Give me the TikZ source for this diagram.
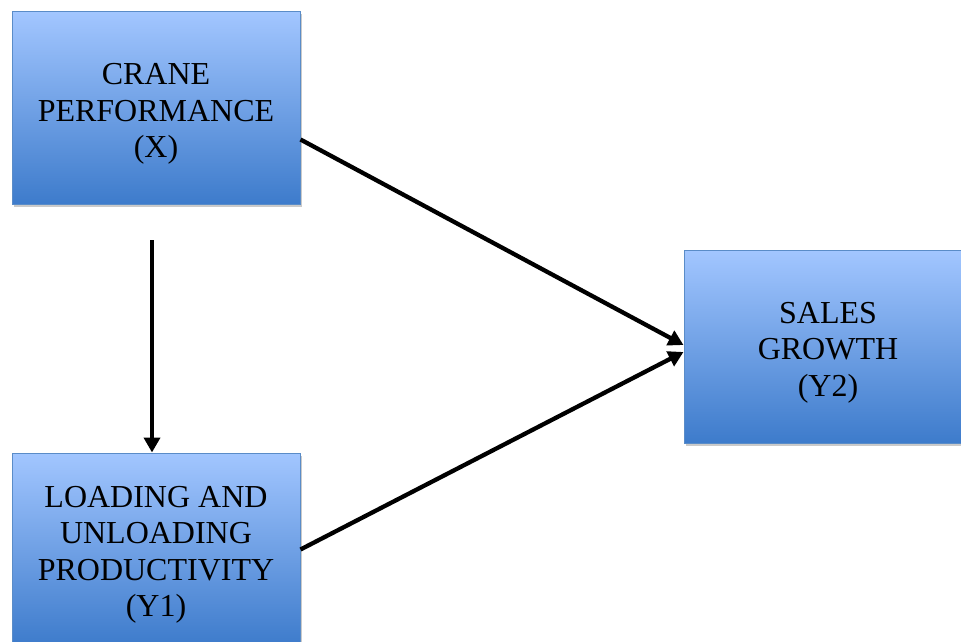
\documentclass[tikz,border=0pt]{standalone}
\usepackage{fontspec}
\setmainfont{Liberation Serif}
\usetikzlibrary{arrows.meta,shadows}
\definecolor{boxtop}{HTML}{A2C6FF}
\definecolor{boxbot}{HTML}{3D7BCB}
\definecolor{boxline}{HTML}{5A8CC8}
\newcommand{\lowstrut}{\rule{0pt}{32pt}}
\begin{document}
\begin{tikzpicture}[x=1pt,y=1pt,
  varbox/.style={draw=boxline, line width=1pt, top color=boxtop, bottom color=boxbot,
    minimum width=288pt, minimum height=193pt, inner sep=0pt, align=center,
    font=\fontsize{32}{36.5}\selectfont,
    drop shadow={shadow xshift=1.5pt, shadow yshift=-2.5pt, opacity=0.35, fill=black!60}},
  link/.style={line width=4.3pt, -{Triangle[length=15pt,width=16pt]}}]
\useasboundingbox (0,0) rectangle (961,641);
\begin{scope}
\clip (0,0) rectangle (961,641);
\node[varbox] (X) at (156,532.5) {\lowstrut CRANE\\PERFORMANCE\\(X)};
\node[varbox] (Y1) at (156,91.5) {\lowstrut LOADING AND\\UNLOADING\\PRODUCTIVITY\\(Y1)};
\node[varbox] (Y2) at (828,294) {\lowstrut SALES\\GROWTH\\(Y2)};
\coordinate (xs) at ([xshift=-4pt,yshift=-35pt]X.south);
\coordinate (y1n) at ([xshift=-4pt]Y1.north);
\draw[link] (xs) -- (y1n);
\draw[link] ([yshift=-31pt]X.east) -- ([yshift=2pt]Y2.west);
\draw[link] (Y1.east) -- ([yshift=-5pt]Y2.west);
\end{scope}
\end{tikzpicture}
\end{document}
